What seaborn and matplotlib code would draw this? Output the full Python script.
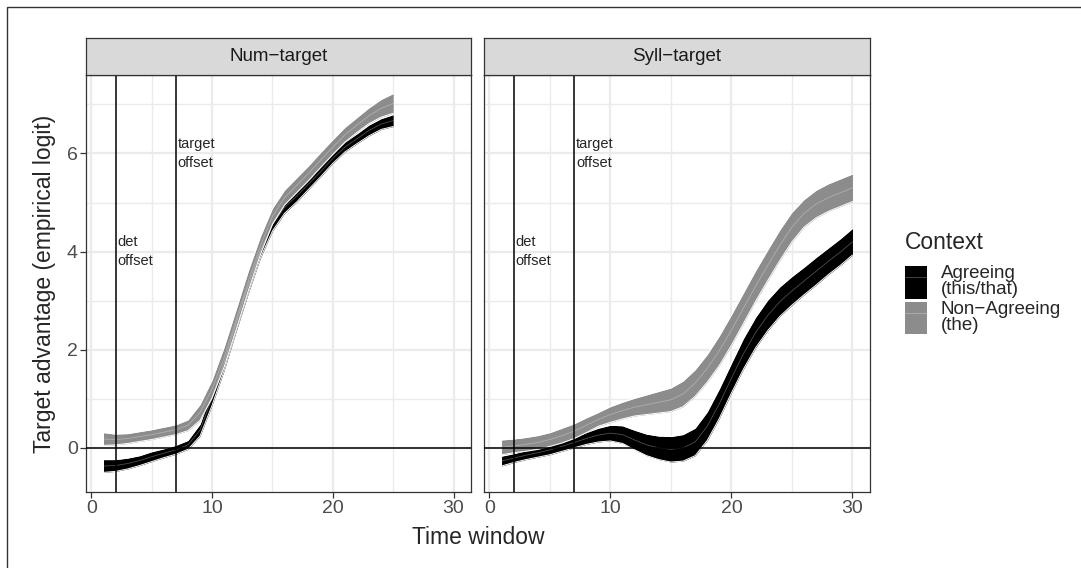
import numpy as np
import pandas as pd
import matplotlib
matplotlib.use("Agg")
import matplotlib.pyplot as plt
import seaborn as sns
from matplotlib.patches import Patch, Rectangle
from matplotlib.lines import Line2D
from matplotlib.legend_handler import HandlerTuple

# valori (fit e semi-ampiezza della banda)
x_num = list(range(1, 26))
num_agree_fit = [-0.37, -0.36, -0.32, -0.26, -0.18, -0.11, -0.04, 0.06, 0.36, 1.02,
                 1.75, 2.55, 3.32, 4.02, 4.55, 4.90, 5.13, 5.38, 5.63, 5.90,
                 6.13, 6.30, 6.47, 6.60, 6.67]
num_agree_se = [0.13, 0.12, 0.11, 0.10, 0.10, 0.09, 0.09, 0.09, 0.12, 0.15,
                0.17, 0.17, 0.17, 0.15, 0.13, 0.12, 0.12, 0.11, 0.10, 0.10,
                0.10, 0.10, 0.11, 0.11, 0.12]
num_non_fit = [0.18, 0.17, 0.19, 0.23, 0.27, 0.32, 0.37, 0.46, 0.72, 1.20,
               1.85, 2.62, 3.40, 4.12, 4.72, 5.10, 5.35, 5.60, 5.87, 6.13,
               6.38, 6.58, 6.77, 6.92, 7.02]
num_non_se = [0.13, 0.11, 0.10, 0.10, 0.10, 0.10, 0.10, 0.11, 0.16, 0.18,
              0.20, 0.20, 0.20, 0.18, 0.16, 0.15, 0.15, 0.15, 0.15, 0.15,
              0.15, 0.15, 0.16, 0.18, 0.20]

x_syll = list(range(1, 31))
syll_agree_fit = [-0.27, -0.21, -0.15, -0.10, -0.04, 0.03, 0.11, 0.19, 0.26, 0.30,
                  0.27, 0.16, 0.06, 0.00, -0.03, 0.00, 0.12, 0.44, 0.90, 1.42,
                  1.92, 2.35, 2.70, 2.98, 3.20, 3.40, 3.60, 3.80, 3.99, 4.20]
syll_agree_se = [0.10, 0.09, 0.09, 0.09, 0.10, 0.10, 0.11, 0.12, 0.14, 0.16,
                 0.18, 0.20, 0.22, 0.24, 0.26, 0.27, 0.28, 0.29, 0.30, 0.30,
                 0.31, 0.31, 0.31, 0.30, 0.29, 0.28, 0.28, 0.27, 0.27, 0.27]
syll_non_fit = [0.01, 0.04, 0.07, 0.11, 0.17, 0.25, 0.34, 0.46, 0.58, 0.68,
                0.76, 0.83, 0.88, 0.93, 0.98, 1.10, 1.32, 1.62, 1.98, 2.40,
                2.85, 3.30, 3.72, 4.13, 4.50, 4.78, 4.97, 5.10, 5.20, 5.30]
syll_non_se = [0.15, 0.14, 0.14, 0.14, 0.14, 0.15, 0.15, 0.15, 0.14, 0.16,
               0.17, 0.18, 0.20, 0.22, 0.24, 0.26, 0.27, 0.28, 0.30, 0.31,
               0.31, 0.31, 0.31, 0.31, 0.30, 0.28, 0.28, 0.28, 0.28, 0.28]

facets = ["Num\u2212target", "Syll\u2212target"]
contexts = ["Agreeing\n(this/that)", "Non\u2212Agreeing\n(the)"]
colori = {contexts[0]: "#000000", contexts[1]: "#8C8C8C"}

det_offset = 2
target_offset = 7

# tabella lunga
righe = []
for fac, xs, series in [
    (facets[0], x_num, [(num_agree_fit, num_agree_se), (num_non_fit, num_non_se)]),
    (facets[1], x_syll, [(syll_agree_fit, syll_agree_se), (syll_non_fit, syll_non_se)]),
]:
    for ctx, (fit, se) in zip(contexts, series):
        for xi, f, s in zip(xs, fit, se):
            righe.append({"facet": fac, "Context": ctx, "x": xi, "fit": f,
                          "lo": f - s, "hi": f + s})
df = pd.DataFrame(righe)

sns.set_theme(style="white")
plt.rcParams["font.family"] = ["Liberation Sans", "DejaVu Sans"]

W, H = 1081, 568
fig = plt.figure(figsize=(W / 100, H / 100), dpi=100)

# cornice esterna
fig.patches.append(Rectangle((7 / W, -0.1), 1.2, 1.1 - 7 / H, transform=fig.transFigure,
                             fill=False, edgecolor="#333333", lw=1.0))

pannelli = [(86, 471), (484, 870)]
top_px, bot_px, strip_top = 75, 492, 38

for i, (fac, (l, r)) in enumerate(zip(facets, pannelli)):
    ax = fig.add_axes([l / W, (H - bot_px) / H, (r - l) / W, (bot_px - top_px) / H])
    sub = df[df["facet"] == fac]

    ax.set_xlim(-0.45, 31.45)
    ax.set_ylim(-0.9, 7.6)
    ax.set_xticks([0, 10, 20, 30])
    ax.set_yticks([0, 2, 4, 6])
    ax.set_xticks([5, 15, 25], minor=True)
    ax.set_yticks([1, 3, 5, 7], minor=True)
    ax.grid(which="major", color="#EBEBEB", lw=1.6)
    ax.grid(which="minor", color="#EBEBEB", lw=1.0)
    ax.set_axisbelow(True)
    for sp in ax.spines.values():
        sp.set_color("#333333")
        sp.set_linewidth(0.9)
        sp.set_visible(True)
    ax.tick_params(which="major", length=4, width=0.9, color="#333333",
                   labelcolor="#4D4D4D", labelsize=14, pad=2, bottom=True, left=True)
    ax.tick_params(which="minor", length=0)

    for ctx in contexts:
        d = sub[sub["Context"] == ctx]
        ax.fill_between(d["x"], d["lo"], d["hi"], color=colori[ctx], lw=0, zorder=2)
        ax.plot(d["x"], d["lo"], color="white", lw=0.7, zorder=2)
        ax.plot(d["x"], d["hi"], color="white", lw=0.7, zorder=2)
        sns.lineplot(data=d, x="x", y="fit", color="white", alpha=0.3, lw=0.6,
                     ax=ax, zorder=3)

    ax.axhline(0, color="black", lw=1.1, zorder=4)
    ax.axvline(det_offset, color="black", lw=1.1, zorder=4)
    ax.axvline(target_offset, color="black", lw=1.1, zorder=4)
    ax.text(det_offset + 0.15, 4, "det\noffset", fontsize=10.5, ha="left", va="center",
            linespacing=1.5, zorder=5)
    ax.text(target_offset + 0.15, 6, "target\noffset", fontsize=10.5, ha="left",
            va="center", linespacing=1.5, zorder=5)

    ax.set_xlabel("")
    ax.set_ylabel("")
    if i > 0:
        ax.tick_params(labelleft=False, left=False)

    # striscia del pannello
    sax = fig.add_axes([l / W, (H - top_px) / H, (r - l) / W, (top_px - strip_top) / H])
    sax.set_facecolor("#D9D9D9")
    sax.set_xticks([])
    sax.set_yticks([])
    for sp in sax.spines.values():
        sp.set_color("#333333")
        sp.set_linewidth(0.9)
        sp.set_visible(True)
    sax.text(0.5, 0.5, fac, transform=sax.transAxes, ha="center", va="center",
             fontsize=13.5, color="#1A1A1A")

fig.text((86 + 870) / 2 / W, 1 - 537 / H, "Time window", ha="center", va="center",
         fontsize=16.5)
fig.text(45 / W, 1 - (75 + 492) / 2 / H, "Target advantage (empirical logit)",
         rotation=90, ha="center", va="center", fontsize=16.5)

handles = [(Patch(facecolor=colori[c], edgecolor="none"),
            Line2D([], [], color="white", alpha=0.3, lw=0.6)) for c in contexts]
leg = fig.legend(handles, contexts, title="Context", loc="upper left",
                 bbox_to_anchor=(905 / W, 1 - 231 / H), frameon=False,
                 fontsize=13.5, title_fontsize=16.5, handlelength=1.17,
                 handleheight=2.3, labelspacing=0.1, handletextpad=0.75,
                 borderpad=0, borderaxespad=0,
                 handler_map={tuple: HandlerTuple(ndivide=1)})
leg._legend_box.align = "left"
leg._legend_box.sep = 8
for t in leg.get_texts():
    t.set_linespacing(0.95)

fig.savefig("out.png", dpi=100)
